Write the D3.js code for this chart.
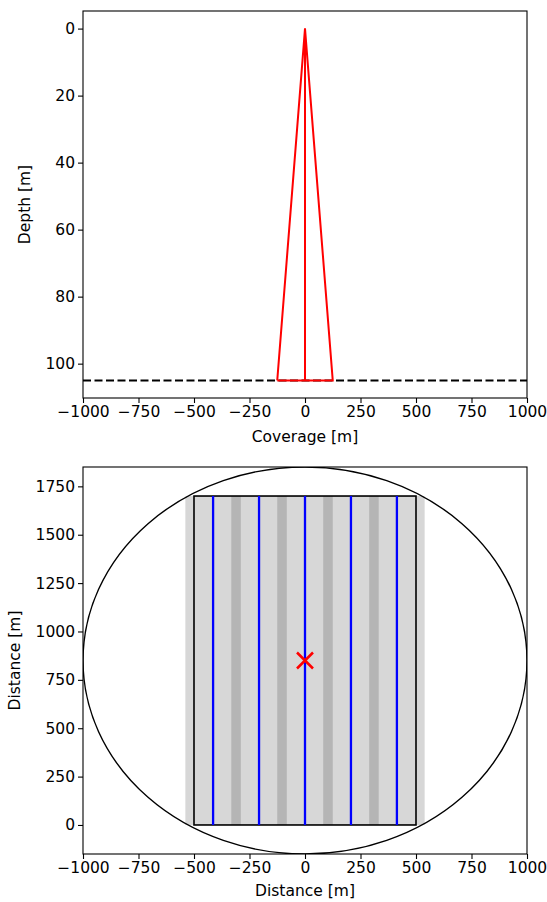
<!DOCTYPE html>
<html>
<head>
<meta charset="utf-8">
<script src="https://cdn.jsdelivr.net/npm/d3@7"></script>
<style>
  html, body { margin: 0; padding: 0; background: #fff; }
  svg { display: block; font-family: "DejaVu Sans", sans-serif; }
</style>
</head>
<body>
<svg id="chart" width="547" height="902"></svg>
<script>
// ---- data ----
const xTicks = [-1000, -750, -500, -250, 0, 250, 500, 750, 1000];
const depthTicks = [0, 20, 40, 60, 80, 100];
const distTicks = [0, 250, 500, 750, 1000, 1250, 1500, 1750];

// top panel: beam cone and seabed
const coneX = [-125, 0, 125, -125];
const coneDepth = [105, 0, 105, 105];
const axisX = [0, 0];
const axisDepth = [0, 105];
const seabedDepth = 105;

// bottom panel: survey lines, swaths, area, range circle, centre
const trackX = [-414, -207, 0, 207, 414];
const swathHalf = [125];
const areaX = [-500, 500];
const areaY = [0, 1700];
const circleCenter = [0, 850];
const circleRadius = [1000];

// ---- layout ----
const svg = d3.select("#chart");
const L = 83, R = 527;
const fontSize = 15.5;
const minus = s => String(s).replace("-", "\u2212");

function frame(g, x, y, yTicks, xLabel, yLabel, yLabelX, xLabelDy) {
  const [y0, y1] = y.range();
  const top = Math.min(y0, y1), bot = Math.max(y0, y1);
  g.append("g").attr("transform", `translate(0,${bot})`)
    .call(d3.axisBottom(x).tickValues(xTicks).tickSize(5).tickPadding(3).tickFormat(minus))
    .call(a => a.select(".domain").remove());
  g.append("g").attr("transform", `translate(${L},0)`)
    .call(d3.axisLeft(y).tickValues(yTicks).tickSize(5).tickPadding(3).tickFormat(minus))
    .call(a => a.select(".domain").remove());
  g.selectAll(".tick text").attr("font-size", fontSize).attr("fill", "#000")
    .attr("font-family", "DejaVu Sans");
  g.selectAll(".tick line").attr("stroke", "#000").attr("stroke-width", 1.1);
  g.append("rect").attr("x", L).attr("y", top).attr("width", R - L).attr("height", bot - top)
    .attr("fill", "none").attr("stroke", "#000").attr("stroke-width", 1.1);
  g.append("text").attr("x", (L + R) / 2).attr("y", bot + xLabelDy)
    .attr("text-anchor", "middle").attr("font-size", fontSize).text(xLabel);
  g.append("text").attr("transform", `translate(${yLabelX},${(top + bot) / 2}) rotate(-90)`)
    .attr("text-anchor", "middle").attr("font-size", fontSize).text(yLabel);
}

// ---- top panel ----
const x1 = d3.scaleLinear().domain([-1000, 1000]).range([L, R]);
const y1 = d3.scaleLinear().domain([-5.25, 110.25]).range([11, 398]);
const g1 = svg.append("g");
svg.append("clipPath").attr("id", "c1").append("rect")
  .attr("x", L).attr("y", 11).attr("width", R - L).attr("height", 387);
const p1 = g1.append("g").attr("clip-path", "url(#c1)");
p1.append("line").attr("x1", x1(-1000)).attr("x2", x1(1000))
  .attr("y1", y1(seabedDepth)).attr("y2", y1(seabedDepth))
  .attr("stroke", "#000").attr("stroke-width", 2).attr("stroke-dasharray", "8,3.5");
const line1 = d3.line().x(d => x1(d[0])).y(d => y1(d[1]));
p1.append("path").datum(coneX.map((v, i) => [v, coneDepth[i]])).attr("d", line1)
  .attr("fill", "none").attr("stroke", "red").attr("stroke-width", 2).attr("stroke-linejoin", "miter");
p1.append("path").datum(axisX.map((v, i) => [v, axisDepth[i]])).attr("d", line1)
  .attr("fill", "none").attr("stroke", "red").attr("stroke-width", 2);
frame(g1, x1, y1, depthTicks, "Coverage [m]", "Depth [m]", 30, 44);

// ---- bottom panel ----
const x2 = d3.scaleLinear().domain([-1000, 1000]).range([L, R]);
const y2 = d3.scaleLinear().domain([-150, 1850]).range([854, 467]);
const g2 = svg.append("g");
svg.append("clipPath").attr("id", "c2").append("rect")
  .attr("x", L).attr("y", 467).attr("width", R - L).attr("height", 387);
const p2 = g2.append("g").attr("clip-path", "url(#c2)");
// swaths
p2.selectAll("rect.swath").data(trackX).join("rect").attr("class", "swath")
  .attr("x", d => x2(d - swathHalf[0])).attr("width", d => x2(d + swathHalf[0]) - x2(d - swathHalf[0]))
  .attr("y", y2(areaY[1])).attr("height", y2(areaY[0]) - y2(areaY[1]))
  .attr("fill", "#000").attr("fill-opacity", 0.155);
// survey area
p2.append("rect").attr("x", x2(areaX[0])).attr("width", x2(areaX[1]) - x2(areaX[0]))
  .attr("y", y2(areaY[1])).attr("height", y2(areaY[0]) - y2(areaY[1]))
  .attr("fill", "none").attr("stroke", "#000").attr("stroke-width", 1.6);
// track lines
p2.selectAll("line.track").data(trackX).join("line").attr("class", "track")
  .attr("x1", d => x2(d)).attr("x2", d => x2(d))
  .attr("y1", y2(areaY[0])).attr("y2", y2(areaY[1]))
  .attr("stroke", "blue").attr("stroke-width", 2.3);
// range circle (ellipse in pixel space)
p2.append("ellipse").attr("cx", x2(circleCenter[0])).attr("cy", y2(circleCenter[1]))
  .attr("rx", x2(circleRadius[0]) - x2(0)).attr("ry", y2(0) - y2(circleRadius[0]))
  .attr("fill", "none").attr("stroke", "#000").attr("stroke-width", 1.4);
// centre marker
const cx = x2(circleCenter[0]), cy = y2(circleCenter[1]), m = 8;
p2.append("path").attr("d", `M${cx - m},${cy - m}L${cx + m},${cy + m}M${cx - m},${cy + m}L${cx + m},${cy - m}`)
  .attr("stroke", "red").attr("stroke-width", 2.5).attr("fill", "none");
frame(g2, x2, y2, distTicks, "Distance [m]", "Distance [m]", 20, 42);
</script>
</body>
</html>
